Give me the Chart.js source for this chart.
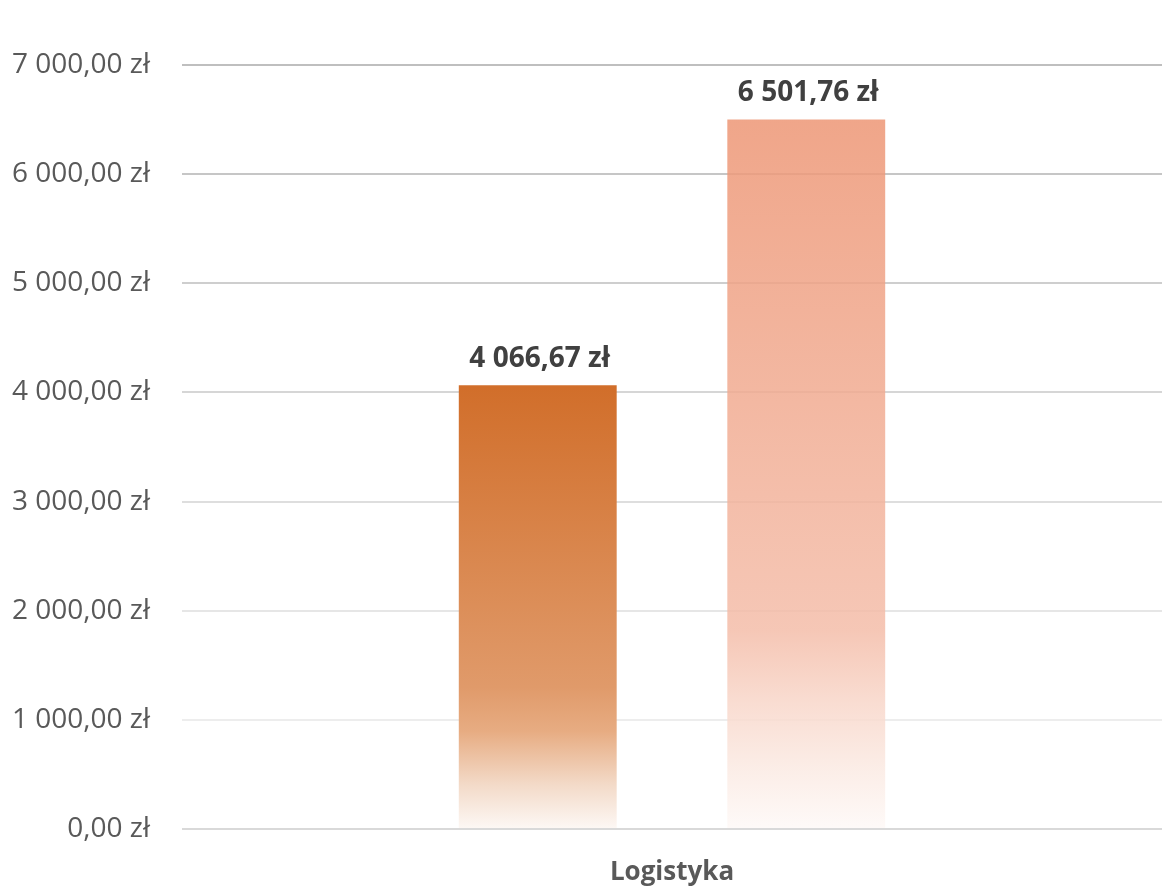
<!DOCTYPE html>
<html lang="pl">
<head>
    <meta charset="UTF-8">
    <title>Logistyka</title>
    <script src="https://cdn.jsdelivr.net/npm/chart.js"></script>
    <style>
        html, body { margin: 0; padding: 0; background: #fff; }
        #wrap { width: 1162px; height: 888px; }
    </style>
</head>
<body>
    <div id="wrap"><canvas id="myChart" width="1162" height="888"></canvas></div>

    <script>
        // data
        const categories = ['Logistyka'];
        const seriesA = [4066.67];
        const seriesB = [6501.76];
        const yTicks = [0, 1000, 2000, 3000, 4000, 5000, 6000, 7000];

        // gradient stops per series (colour as seen on white paper)
        const stopsA = [[0, [209, 110, 42]], [0.68, [224, 154, 106]], [0.78, [231, 172, 130]], [0.9, [243, 218, 200]], [1, [253, 248, 245]]];
        const stopsB = [[0, [240, 166, 138]], [0.72, [246, 199, 182]], [0.82, [249, 220, 209]], [0.92, [252, 238, 232]], [1, [254, 250, 248]]];

        const gridColors = ['#D9D9D9', '#EDEDED', '#E6E6E6', '#DEDEDE', '#D6D6D6', '#CECECE', '#C6C6C6', '#BFBFBF'];

        // money format like "4 066,67 zł"
        function formatZl(v) {
            const parts = v.toFixed(2).split('.');
            const intPart = parts[0].replace(/\B(?=(\d{3})+(?!\d))/g, ' ');
            return intPart + ',' + parts[1] + ' zł';
        }

        function rgba(c, a) {
            if (a >= 1) return 'rgb(' + c.join(',') + ')';
            // colour that looks like c once laid over white at alpha a
            const r = c.map(x => Math.round(255 - (255 - x) / a));
            return 'rgba(' + r.join(',') + ',' + a + ')';
        }

        function makeFill(stops, alpha) {
            return function(context) {
                const chart = context.chart;
                const fallback = rgba(stops[0][1], alpha);
                if (!chart.chartArea || context.raw === undefined) return fallback;
                const y = chart.scales.y;
                const top = y.getPixelForValue(context.raw);
                const bottom = y.getPixelForValue(0);
                const g = chart.ctx.createLinearGradient(0, top, 0, bottom);
                stops.forEach(s => g.addColorStop(s[0], rgba(s[1], alpha)));
                return g;
            };
        }

        // draws the value above each bar
        const valueLabels = {
            id: 'valueLabels',
            afterDatasetsDraw(chart) {
                const ctx = chart.ctx;
                ctx.save();
                ctx.font = 'bold 28px "Open Sans"';
                ctx.fillStyle = '#404040';
                ctx.textAlign = 'center';
                ctx.textBaseline = 'alphabetic';
                chart.data.datasets.forEach((ds, i) => {
                    chart.getDatasetMeta(i).data.forEach((bar, j) => {
                        ctx.fillText(formatZl(ds.data[j]), bar.x + 2, bar.y - 18);
                    });
                });
                ctx.restore();
            }
        };

        const ctx = document.getElementById('myChart').getContext('2d');
        const chart = new Chart(ctx, {
            type: 'bar',
            data: {
                labels: categories,
                datasets: [
                    {
                        label: 'A',
                        data: seriesA,
                        backgroundColor: makeFill(stopsA, 1),
                        categoryPercentage: 0.548,
                        barPercentage: 0.588
                    },
                    {
                        label: 'B',
                        data: seriesB,
                        backgroundColor: makeFill(stopsB, 0.85),
                        categoryPercentage: 0.548,
                        barPercentage: 0.588
                    }
                ]
            },
            options: {
                responsive: false,
                animation: false,
                layout: {
                    padding: { top: 65, left: 0, right: 0, bottom: 0 }
                },
                plugins: {
                    legend: { display: false },
                    tooltip: { enabled: false }
                },
                scales: {
                    x: {
                        grid: { display: false, drawTicks: false },
                        border: { display: false },
                        ticks: {
                            color: '#595959',
                            font: { family: '"Open Sans"', size: 26, weight: 'bold' },
                            padding: 28
                        },
                        afterFit: s => { s.height = 59; }
                    },
                    y: {
                        min: 0,
                        max: 7000,
                        afterBuildTicks: s => { s.ticks = yTicks.map(v => ({ value: v })); },
                        grid: {
                            drawTicks: false,
                            lineWidth: 2,
                            color: c => gridColors[c.index] || '#D9D9D9'
                        },
                        border: { display: false },
                        ticks: {
                            color: '#595959',
                            font: { family: '"Open Sans"', size: 28 },
                            padding: 32,
                            callback: v => formatZl(v)
                        },
                        afterFit: s => { s.width = 182; }
                    }
                }
            },
            plugins: [valueLabels]
        });
    </script>
</body>
</html>
